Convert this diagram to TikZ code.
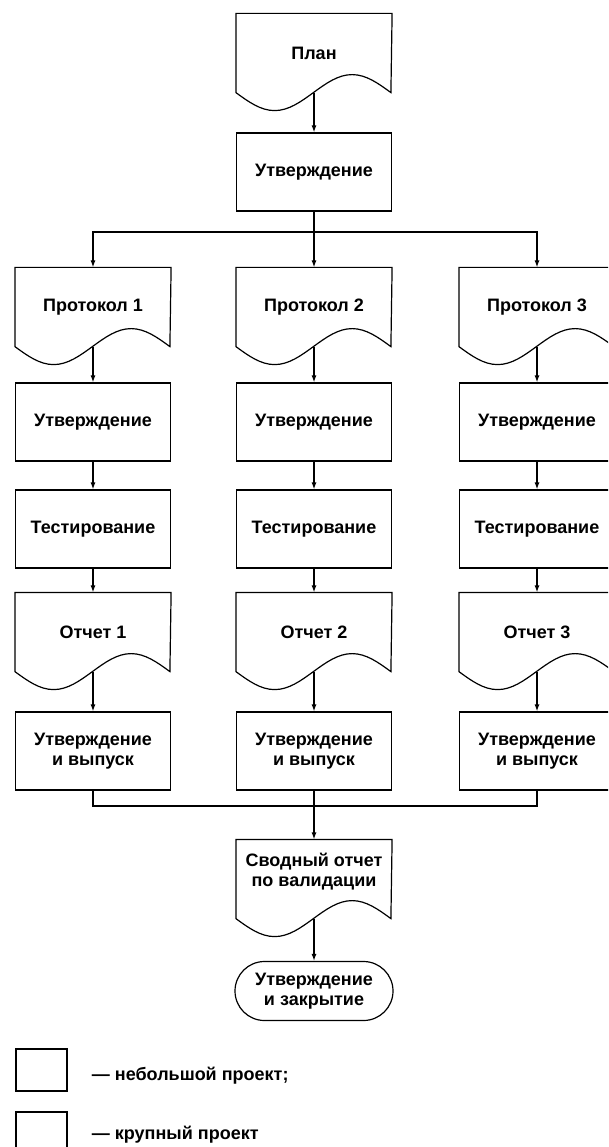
\documentclass[tikz,border=0pt]{standalone}
\usepackage{fontspec}
\setmainfont{Liberation Sans}
\usetikzlibrary{arrows.meta,shapes.misc}

% document outline: box with a wave for its bottom edge
\newcommand\docoutline[1]{%
  \draw (#1.south west) sin ++(\wavestep,\waveamp) cos ++(\wavestep,-\waveamp)
    sin ++(\wavestep,-\waveamp) cos ++(\wavestep,\waveamp)
    -- (#1.north east) -- (#1.north west) -- cycle;}

\begin{document}
\begin{tikzpicture}[x=1pt, y=-1pt, line width=1.2pt,
  font=\bfseries\fontsize{18}{20}\selectfont,
  stepbox/.style={draw, rectangle, minimum width=\boxwidth pt, minimum height=\boxheight pt, align=center, inner sep=0pt},
  docbox/.style={rectangle, minimum width=\boxwidth pt, minimum height=\boxheight pt, align=center, inner sep=0pt},
  termbox/.style={draw, rounded rectangle, minimum width=158pt, minimum height=59pt, align=center, inner sep=0pt},
  keybox/.style={draw, rectangle, minimum width=51pt, minimum height=42pt},
  flow/.style={-{Latex[length=7pt,width=5pt]}}]

% Page frame (pixels of the scan):
\useasboundingbox (0,0) rectangle (608,1147);
\clip (0,0) rectangle (608,1147);

% Size of the boxes:
\def\boxwidth{155}
\def\boxheight{78}
% Wave at the bottom of a document:
\pgfmathsetmacro{\wavestep}{\boxwidth/4}
\def\waveamp{18}

%--- Column centres ---
\def\colA{93}
\def\colB{314}
\def\colC{537}
%--- Row centres ---
\def\rowProt{307}
\def\rowAppr{422}
\def\rowTest{529}
\def\rowRep{632}
\def\rowRel{751}

%--- Plan and its approval ---
\node[docbox] (plan) at (\colB,53) {План};
\docoutline{plan}
\node[stepbox] (approve) at (\colB,172) {Утверждение};
\draw[flow] (plan.south) -- (approve.north);

% 1) split into three protocols
\coordinate (split) at (\colB,232);
\draw (approve.south) -- (split);

%--- Protocols ---
\node[docbox] (protA) at (\colA,\rowProt) {Протокол 1};
\node[docbox] (protB) at (\colB,\rowProt) {Протокол 2};
\node[docbox] (protC) at (\colC,\rowProt) {Протокол 3};
\docoutline{protA}
\docoutline{protB}
\docoutline{protC}
\draw[flow] (split) -| (protA.north);
\draw[flow] (split) -- (protB.north);
\draw[flow] (split) -| (protC.north);

%--- Approval ---
\node[stepbox] (apprA) at (\colA,\rowAppr) {Утверждение};
\node[stepbox] (apprB) at (\colB,\rowAppr) {Утверждение};
\node[stepbox] (apprC) at (\colC,\rowAppr) {Утверждение};
\draw[flow] (protA.south) -- (apprA.north);
\draw[flow] (protB.south) -- (apprB.north);
\draw[flow] (protC.south) -- (apprC.north);

%--- Testing ---
\node[stepbox] (testA) at (\colA,\rowTest) {Тестирование};
\node[stepbox] (testB) at (\colB,\rowTest) {Тестирование};
\node[stepbox] (testC) at (\colC,\rowTest) {Тестирование};
\draw[flow] (apprA) -- (testA);
\draw[flow] (apprB) -- (testB);
\draw[flow] (apprC) -- (testC);

%--- Reports ---
\node[docbox] (repA) at (\colA,\rowRep) {Отчет 1};
\node[docbox] (repB) at (\colB,\rowRep) {Отчет 2};
\node[docbox] (repC) at (\colC,\rowRep) {Отчет 3};
\docoutline{repA}
\docoutline{repB}
\docoutline{repC}
\draw[flow] (testA) -- (repA);
\draw[flow] (testB) -- (repB);
\draw[flow] (testC) -- (repC);

%--- Approval and release ---
\node[stepbox] (relA) at (\colA,\rowRel) {Утверждение\\и выпуск};
\node[stepbox] (relB) at (\colB,\rowRel) {Утверждение\\и выпуск};
\node[stepbox] (relC) at (\colC,\rowRel) {Утверждение\\и выпуск};
\draw[flow] (repA.south) -- (relA.north);
\draw[flow] (repB.south) -- (relB.north);
\draw[flow] (repC.south) -- (relC.north);

% 2) join the three columns again
\coordinate (join) at (\colB,806);
\draw (relA.south) |- (join);
\draw (relC.south) |- (join);
\draw (relB.south) -- (join);

%--- Summary report and closing ---
\node[docbox] (summary) at (\colB,879) {Сводный отчет\\по валидации\\[-1pt]};
\docoutline{summary}
\draw[flow] (join) -- (summary.north);
\node[termbox] (close) at (\colB,991) {Утверждение\\и закрытие};
\draw[flow] (summary.south) -- (close.north);

%--- Legend ---
\node[keybox] (keysmall) at (41.5,1070) {};
\node[keybox] (keylarge) at (41.5,1133) {};
\node[anchor=west] (keysmalltext) at (88,1076) {— небольшой проект;};
\node[anchor=west] (keylargetext) at (88,1135) {— крупный проект};

\end{tikzpicture}
\end{document}
